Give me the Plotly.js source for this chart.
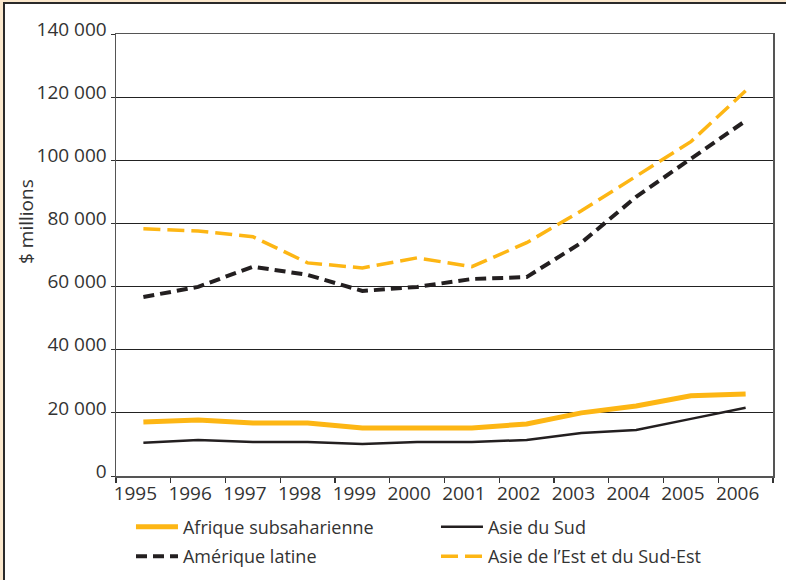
<!DOCTYPE html>
<html><head><meta charset="utf-8">
<script src="https://cdn.plot.ly/plotly-3.0.1.min.js"></script>
<style>
html,body{margin:0;padding:0;background:#fbe8cd;width:786px;height:580px;overflow:hidden;}
#chart{position:absolute;left:3px;top:2px;width:781px;height:576px;border-left:2px solid #2a2a2a;border-top:2px solid #2a2a2a;background:#fff;}
</style></head><body><div id="chart"></div>
<script>
const years = ['1995','1996','1997','1998','1999','2000','2001','2002','2003','2004','2005','2006'];
const afriqueSubsaharienne = [17100, 17700, 16800, 16800, 15200, 15200, 15200, 16500, 20000, 22200, 25400, 26000];
const asieDuSud = [10500, 11400, 10800, 10800, 10100, 10800, 10800, 11400, 13600, 14600, 18100, 21600];
const ameriqueLatine = [56700, 59900, 66300, 63700, 58600, 59900, 62400, 63000, 73900, 88400, 100500, 112500];
const asieEstSudEst = [78300, 77600, 75800, 67500, 65900, 69100, 66300, 73900, 84000, 95000, 105900, 122000];
const seriesNames = ['Afrique subsaharienne', 'Asie du Sud', 'Amérique latine', 'Asie de l\u2019Est et du Sud-Est'];
const yTickVals = [0, 20000, 40000, 60000, 80000, 100000, 120000, 140000];
const yTickText = ['0', '20 000', '40 000', '60 000', '80 000', '100 000', '120 000', '140 000'];
const yTitle = '$ millions';

const gold = '#fdb614';
const dark = '#231f20';
const font = '"Open Sans", Lato, sans-serif';

const traces = [
  {x: years, y: afriqueSubsaharienne, name: seriesNames[0], type: 'scatter', mode: 'lines',
   line: {color: gold, width: 5}, legend: 'legend'},
  {x: years, y: asieDuSud, name: seriesNames[1], type: 'scatter', mode: 'lines',
   line: {color: dark, width: 2.5}, legend: 'legend'},
  {x: years, y: ameriqueLatine, name: seriesNames[2], type: 'scatter', mode: 'lines',
   line: {color: dark, width: 4, dash: '11px,6px'}, legend: 'legend2'},
  {x: years, y: asieEstSudEst, name: seriesNames[3], type: 'scatter', mode: 'lines',
   line: {color: gold, width: 3.5, dash: '17px,7px'}, legend: 'legend2'}
];

const legendCommon = {
  orientation: 'h', xref: 'container', yref: 'container',
  xanchor: 'left', yanchor: 'middle', entrywidth: 248, itemwidth: 42,
  font: {family: font, size: 18, color: '#333'}, bgcolor: 'rgba(0,0,0,0)', borderwidth: 0
};

const layout = {
  width: 781, height: 576,
  margin: {l: 111, r: 13, t: 30, b: 104},
  paper_bgcolor: '#ffffff', plot_bgcolor: '#ffffff',
  font: {family: font, size: 18, color: '#333'},
  showlegend: true,
  xaxis: {
    type: 'category', range: [-0.5, 11.5], tickson: 'boundaries',
    ticks: 'outside', ticklen: 5, tickcolor: '#333', tickwidth: 1.2,
    ticklabelshift: -8,
    showgrid: false, zeroline: false,
    showline: true, linecolor: '#555', linewidth: 1.5, mirror: true,
    tickfont: {family: font, size: 19, color: '#333'}
  },
  yaxis: {
    range: [0, 140000], tickvals: yTickVals, ticktext: yTickText,
    ticks: 'outside', ticklen: 4, tickcolor: '#333',
    ticklabelshift: -5,
    showgrid: true, gridcolor: '#222', gridwidth: 1, zeroline: false,
    showline: true, linecolor: '#555', linewidth: 1.5, mirror: true,
    tickfont: {family: font, size: 19, color: '#333'}
  },
  legend: Object.assign({}, legendCommon, {x: 0.1613, y: 0.092}),
  legend2: Object.assign({}, legendCommon, {x: 0.1613, y: 0.0405}),
  annotations: [{
    text: yTitle, xref: 'paper', yref: 'paper', x: -0.137, y: 0.577,
    xanchor: 'center', yanchor: 'middle', textangle: -90, showarrow: false,
    font: {family: font, size: 19, color: '#333'}
  }]
};

Plotly.newPlot('chart', traces, layout, {displayModeBar: false, staticPlot: true});
</script></body></html>
